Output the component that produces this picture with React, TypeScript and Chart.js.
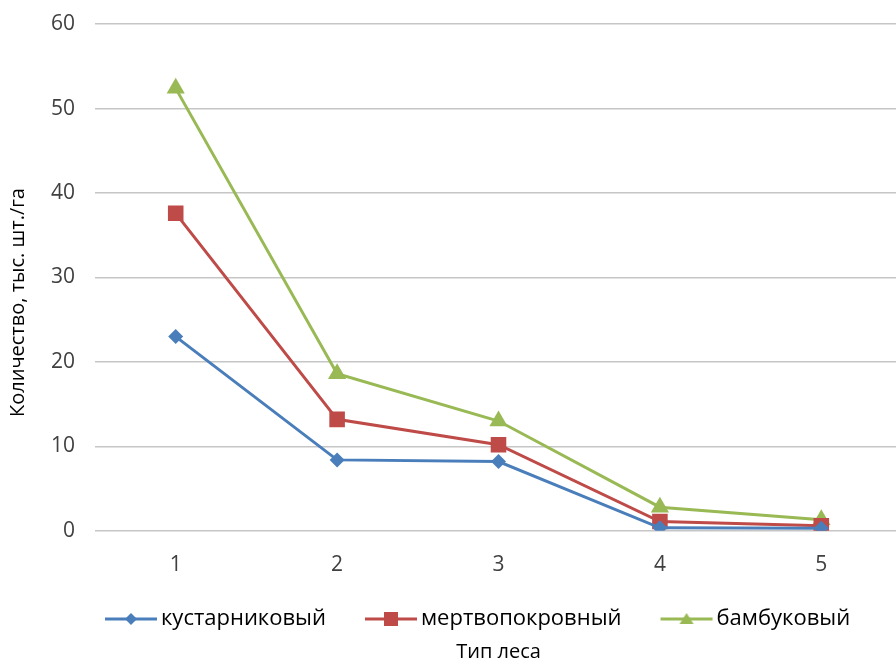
import React, { useEffect, useRef } from "react";
import { Chart, registerables } from "chart.js";

Chart.register(...registerables);

const categories = ["1", "2", "3", "4", "5"];
const shrubValues = [23.0, 8.4, 8.2, 0.35, 0.3];
const deadCoverValues = [37.6, 13.2, 10.2, 1.1, 0.6];
const bambooValues = [52.4, 18.6, 13.0, 2.8, 1.3];
const seriesNames = ["кустарниковый", "мертвопокровный", "бамбуковый"];
const yTitle = "Количество, тыс. шт./га";
const xTitle = "Тип леса";

const BLUE = "#4a7ebb";
const RED = "#be4b48";
const GREEN = "#98b954";
const LEGEND_START_X = 74;

function makeLegendIcon(color: string, style: string): HTMLCanvasElement {
  const c = document.createElement("canvas");
  c.width = 94;
  c.height = 18;
  const ctx = c.getContext("2d")!;
  ctx.strokeStyle = color;
  ctx.lineWidth = 3;
  ctx.beginPath();
  ctx.moveTo(40, 9);
  ctx.lineTo(92, 9);
  ctx.stroke();
  ctx.fillStyle = color;
  ctx.beginPath();
  const cx = 66;
  if (style === "diamond") {
    ctx.moveTo(cx, 3);
    ctx.lineTo(cx + 6, 9);
    ctx.lineTo(cx, 15);
    ctx.lineTo(cx - 6, 9);
  } else if (style === "square") {
    ctx.rect(cx - 7, 2, 14, 14);
  } else {
    ctx.moveTo(cx, 3);
    ctx.lineTo(cx + 7, 14);
    ctx.lineTo(cx - 7, 14);
  }
  ctx.closePath();
  ctx.fill();
  return c;
}

const legendShift = {
  id: "legendShift",
  beforeDraw(chart: any) {
    const lg = chart.legend;
    if (!lg || !lg.lineWidths) return;
    const pad = lg.options.labels.padding;
    const cursorX = (lg.left + pad + (lg.right - lg.lineWidths[0])) / 2;
    const dx = LEGEND_START_X - cursorX;
    lg.left += dx;
    lg.right += dx;
  },
};

const yTitlePlugin = {
  id: "yTitlePlugin",
  afterDraw(chart: any) {
    const { ctx, chartArea } = chart;
    ctx.save();
    ctx.translate(18, (chartArea.top + chartArea.bottom) / 2 + 25);
    ctx.rotate(-Math.PI / 2);
    ctx.font = "20px 'Open Sans'";
    ctx.fillStyle = "#000";
    ctx.textAlign = "center";
    ctx.textBaseline = "middle";
    ctx.fillText(yTitle, 0, 0);
    ctx.restore();
  },
};

export default function App() {
  const ref = useRef<HTMLCanvasElement | null>(null);

  useEffect(() => {
    document.body.style.margin = "0";
    const icons = [
      makeLegendIcon(BLUE, "diamond"),
      makeLegendIcon(RED, "square"),
      makeLegendIcon(GREEN, "triangle"),
    ];
    const chart = new Chart(ref.current!, {
      type: "line",
      data: {
        labels: categories,
        datasets: [
          {
            label: seriesNames[0],
            data: shrubValues,
            borderColor: BLUE,
            backgroundColor: BLUE,
            borderWidth: 3,
            pointStyle: "rectRot",
            pointRadius: 7.5,
            pointBorderWidth: 0,
          },
          {
            label: seriesNames[1],
            data: deadCoverValues,
            borderColor: RED,
            backgroundColor: RED,
            borderWidth: 3,
            pointStyle: "rect",
            pointRadius: 11,
            pointBorderWidth: 0,
          },
          {
            label: seriesNames[2],
            data: bambooValues,
            borderColor: GREEN,
            backgroundColor: GREEN,
            borderWidth: 3,
            pointStyle: "triangle",
            pointRadius: 10.5,
            pointBorderWidth: 0,
          },
        ],
      },
      options: {
        animation: false,
        responsive: false,
        layout: { autoPadding: false, padding: { top: 0, left: 31, right: 0, bottom: 0 } },
        scales: {
          x: {
            offset: true,
            grid: { display: false, drawTicks: false },
            border: { display: false },
            ticks: {
              color: "#404040",
              padding: 22,
              font: { family: "'Open Sans'", size: 21 },
            },
          },
          y: {
            min: 0,
            max: 60,
            grid: { color: "#c6c6c6", lineWidth: 1.5, drawTicks: false },
            border: { display: false },
            ticks: {
              stepSize: 10,
              color: "#404040",
              padding: 20,
              font: { family: "'Open Sans'", size: 21, lineHeight: 0.4 },
            },
          },
        },
        plugins: {
          legend: {
            position: "bottom",
            fullSize: true,
            labels: {
              usePointStyle: true,
              pointStyleWidth: 76,
              boxHeight: 18,
              padding: 8,
              color: "#404040",
              font: { family: "'Open Sans'", size: 22 },
              generateLabels: (ch: any) =>
                ch.data.datasets.map((ds: any, i: number) => ({
                  text: ds.label,
                  pointStyle: icons[i],
                  fillStyle: ds.borderColor,
                  strokeStyle: ds.borderColor,
                  lineWidth: 0,
                  hidden: false,
                  datasetIndex: i,
                })),
            },
          },
          title: {
            display: true,
            position: "bottom",
            fullSize: false,
            text: xTitle,
            color: "#000",
            font: { family: "'Open Sans'", size: 20, weight: "normal" },
            padding: { top: 0, bottom: 0 },
          },
          tooltip: { enabled: false },
        },
      },
      plugins: [legendShift, yTitlePlugin],
    });
    return () => chart.destroy();
  }, []);

  return (
    <div style={{ width: 896, height: 664, overflow: "hidden", position: "relative", background: "#fff" }}>
      <canvas ref={ref} width={902} height={664} style={{ display: "block" }} />
    </div>
  );
}
